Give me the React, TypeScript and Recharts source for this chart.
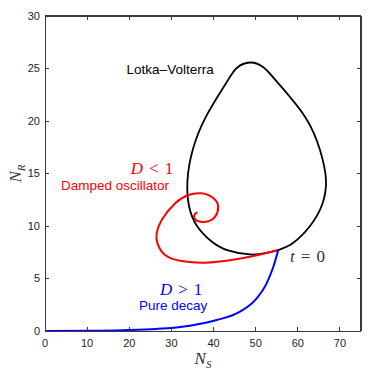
import React from 'react';
import { ComposedChart, Line, XAxis, YAxis, ReferenceDot, ReferenceLine } from 'recharts';

// Lotka–Volterra closed orbit (N_S, N_R), starting and ending at t = 0
const lvNS = [55.37, 58.86, 62.9, 65.74, 66.69, 65.27, 61.71, 55.37, 51.9, 48.65, 45.5, 42.96, 38.21, 35.05, 33.82, 34.18, 36.08, 39.4, 43.43, 48.65, 52.21, 55.37];
const lvNR = [7.71, 8.38, 10.0, 12.0, 14.38, 17.24, 20.41, 23.59, 25.1, 25.57, 25.05, 23.59, 20.41, 17.24, 14.38, 11.9, 10.0, 8.57, 7.67, 7.29, 7.41, 7.71];

// Damped oscillator spiral (D < 1)
const rdNS = [55.37, 50.6, 44.3, 38.0, 32.4, 28.5, 26.7, 26.5, 27.7, 30.9, 34.0, 37.2, 40.0, 41.1, 40.4, 38.8, 37.0, 35.7, 35.4, 35.7, 36.2];
const rdNR = [7.71, 7.24, 6.76, 6.51, 6.67, 7.24, 8.35, 9.3, 10.57, 12.16, 12.95, 13.11, 12.64, 11.84, 10.89, 10.45, 10.4, 10.6, 10.95, 11.2, 11.3];

// Pure decay (D > 1)
const blNS = [0, 10, 18.6, 26.5, 34.4, 40.75, 46.3, 50.25, 52.6, 54.2, 55.37];
const blNR = [0, 0.02, 0.08, 0.2, 0.51, 1.05, 1.84, 3.11, 4.54, 6.12, 7.71];

const xTicks = [0, 10, 20, 30, 40, 50, 60, 70];
const yTicks = [0, 5, 10, 15, 20, 25, 30];
const xDomain = [0, 75];
const yDomain = [0, 30];

// Text annotations
const annoText = ['Lotka\u2013Volterra', 'Damped oscillator', 'Pure decay'];
const annoNS = [29.7, 16.6, 30.4];
const annoNR = [24.5, 13.4, 2.0];
const annoColor = ['#000000', '#ff0000', '#0000ff'];

const mathVar = ['D', 'D', 't'];
const mathRel = ['<', '>', '='];
const mathVal = ['1', '1', '0'];
const mathNS = [25.4, 32.3, 62.3];
const mathNR = [14.95, 3.43, 6.57];
const mathColor = ['#ff0000', '#0000ff', '#333333'];

const toPoints = (xs: number[], ys: number[]) => xs.map((x, i) => ({ x, y: ys[i] }));
const lvData = toPoints(lvNS, lvNR);
const rdData = toPoints(rdNS, rdNR);
const blData = toPoints(blNS, blNR);

const SANS = '"Liberation Sans", Arial, Helvetica, sans-serif';
const SERIF = '"Liberation Serif", "Times New Roman", serif';
const FRAME = '#3a3a3a';

// Layout (plot box in pixels)
const W = 382;
const H = 369;
const PLOT = { left: 45, right: 361, top: 16, bottom: 331 };
const X_AXIS_H = 20;
const Y_AXIS_W = 30;
const TICK_LEN = 4;

const center = (vb: any) => ({ cx: vb.x + vb.width / 2, cy: vb.y + vb.height / 2 });

const makeSansLabel = (text: string, color: string) => (props: any) => {
  const { cx, cy } = center(props.viewBox);
  return (
    <text x={cx} y={cy} textAnchor="middle" fontFamily={SANS} fontSize={13.5} fill={color}>
      {text}
    </text>
  );
};

const makeMathLabel = (v: string, rel: string, val: string, color: string) => (props: any) => {
  const { cx, cy } = center(props.viewBox);
  return (
    <text x={cx} y={cy} textAnchor="middle" fontFamily={SERIF} fontSize={17} fill={color}>
      <tspan fontStyle="italic">{v}</tspan>
      <tspan dx={6}>{rel}</tspan>
      <tspan dx={6}>{val}</tspan>
    </text>
  );
};

const xLabel = (props: any) => {
  const vb = props.viewBox;
  const cx = vb.x + vb.width / 2;
  const by = vb.y + vb.height + 13;
  return (
    <text x={cx} y={by} textAnchor="middle" fontFamily={SERIF} fontSize={17} fill="#333333">
      <tspan fontStyle="italic">N</tspan>
      <tspan fontStyle="italic" fontSize={11} dy={4}>S</tspan>
    </text>
  );
};

const yLabel = (props: any) => {
  const vb = props.viewBox;
  const bx = vb.x + 6;
  const cy = vb.y + vb.height / 2;
  return (
    <text x={bx} y={cy} transform={`rotate(-90 ${bx} ${cy})`} textAnchor="middle" fontFamily={SERIF} fontSize={17} fill="#333333">
      <tspan fontStyle="italic">N</tspan>
      <tspan fontStyle="italic" fontSize={11} dy={4}>R</tspan>
    </text>
  );
};

// Tick renderers: label outside, inward tick marks on both opposite sides of the box
const XTick = (props: any) => {
  const { x, y, payload } = props;
  return (
    <g>
      <line x1={x} x2={x} y1={PLOT.bottom} y2={PLOT.bottom - TICK_LEN} stroke={FRAME} strokeWidth={1} shapeRendering="crispEdges" />
      <line x1={x} x2={x} y1={PLOT.top} y2={PLOT.top + TICK_LEN} stroke={FRAME} strokeWidth={1} shapeRendering="crispEdges" />
      <text x={x} y={y} dy="0.71em" textAnchor="middle" fontFamily={SANS} fontSize={11} fill="#222222">
        {payload.value}
      </text>
    </g>
  );
};

const YTick = (props: any) => {
  const { x, y, payload } = props;
  return (
    <g>
      <line x1={PLOT.left} x2={PLOT.left + TICK_LEN} y1={y} y2={y} stroke={FRAME} strokeWidth={1} shapeRendering="crispEdges" />
      <line x1={PLOT.right} x2={PLOT.right - TICK_LEN} y1={y} y2={y} stroke={FRAME} strokeWidth={1} shapeRendering="crispEdges" />
      <text x={x} y={y} dy="0.355em" textAnchor="end" fontFamily={SANS} fontSize={11} fill="#222222">
        {payload.value}
      </text>
    </g>
  );
};

export default function App() {
  return (
    <div style={{ position: 'absolute', left: 0, top: 0, width: W, height: H, background: '#ffffff' }}>
      <ComposedChart
        width={W}
        height={H}
        margin={{
          top: PLOT.top,
          right: W - PLOT.right,
          bottom: H - PLOT.bottom - X_AXIS_H,
          left: PLOT.left - Y_AXIS_W,
        }}
      >
        <XAxis
          xAxisId="x"
          type="number"
          dataKey="x"
          domain={xDomain}
          ticks={xTicks}
          allowDataOverflow
          height={X_AXIS_H}
          tickLine={false}
          tickSize={4}
          tickMargin={4}
          axisLine={{ stroke: FRAME, strokeWidth: 1, shapeRendering: 'crispEdges' }}
          tick={XTick}
          label={{ content: xLabel }}
        />
        <YAxis
          yAxisId="y"
          type="number"
          dataKey="y"
          domain={yDomain}
          ticks={yTicks}
          allowDataOverflow
          width={Y_AXIS_W}
          tickLine={false}
          tickSize={2}
          tickMargin={3}
          axisLine={{ stroke: FRAME, strokeWidth: 1, shapeRendering: 'crispEdges' }}
          tick={YTick}
          label={{ content: yLabel }}
        />
        <ReferenceLine xAxisId="x" yAxisId="y" y={yDomain[1]} ifOverflow="visible" stroke={FRAME} strokeWidth={2} />
        <ReferenceLine xAxisId="x" yAxisId="y" x={xDomain[1]} ifOverflow="visible" stroke={FRAME} strokeWidth={2} />
        <Line
          xAxisId="x"
          yAxisId="y"
          data={lvData}
          dataKey="y"
          type="natural"
          stroke="#000000"
          strokeWidth={1.8}
          dot={false}
          activeDot={false}
          isAnimationActive={false}
        />
        <Line
          xAxisId="x"
          yAxisId="y"
          data={rdData}
          dataKey="y"
          type="natural"
          stroke="#ff0000"
          strokeWidth={2}
          dot={false}
          activeDot={false}
          isAnimationActive={false}
        />
        <Line
          xAxisId="x"
          yAxisId="y"
          data={blData}
          dataKey="y"
          type="monotone"
          stroke="#0000ff"
          strokeWidth={2}
          dot={false}
          activeDot={false}
          isAnimationActive={false}
        />
        {annoText.map((t, i) => (
          <ReferenceDot
            key={'a' + i}
            xAxisId="x"
            yAxisId="y"
            x={annoNS[i]}
            y={annoNR[i]}
            r={1}
            fill="none"
            stroke="none"
            label={{ content: makeSansLabel(t, annoColor[i]) }}
          />
        ))}
        {mathVar.map((v, i) => (
          <ReferenceDot
            key={'m' + i}
            xAxisId="x"
            yAxisId="y"
            x={mathNS[i]}
            y={mathNR[i]}
            r={1}
            fill="none"
            stroke="none"
            label={{ content: makeMathLabel(v, mathRel[i], mathVal[i], mathColor[i]) }}
          />
        ))}
      </ComposedChart>
    </div>
  );
}
